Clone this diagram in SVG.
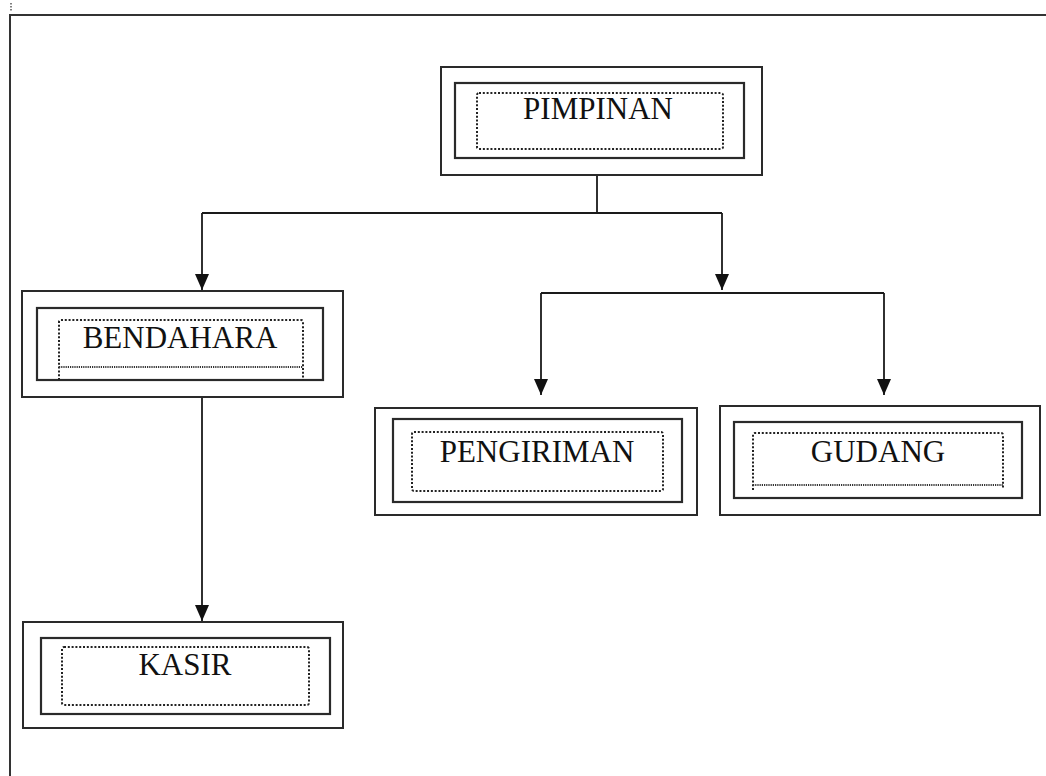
<svg xmlns="http://www.w3.org/2000/svg" width="1046" height="776" viewBox="0 0 1046 776">
<style>
.outer{fill:none;stroke:#2a2a2a;stroke-width:2}
.inner{fill:none;stroke:#2a2a2a;stroke-width:2.2}
.dot{fill:none;stroke:#222;stroke-width:2;stroke-dasharray:2 1.8}
.wave{fill:none;stroke:#333;stroke-width:2;stroke-dasharray:1.2 1}
.lbl{font-family:"Liberation Serif","Times New Roman",serif;font-size:31px;fill:#111;text-anchor:middle}
.conn{fill:none;stroke:#1a1a1a;stroke-width:1.8}
.frame{fill:none;stroke:#333;stroke-width:2}
</style>
<defs>
<marker id="tri" viewBox="0 0 16 14" refX="16" refY="7" markerWidth="16" markerHeight="14" markerUnits="userSpaceOnUse" orient="auto">
<path d="M0,0 L16,7 L0,14 Z" fill="#111"/>
</marker>
</defs>
<rect width="1046" height="776" fill="#fff"/>
<path class="frame" d="M10,776 V15 H1046"/>
<line x1="11" y1="3" x2="11" y2="11" stroke="#555" stroke-width="1.5" stroke-dasharray="1.5 1.5"/>

<g id="connectors">
<path class="conn" d="M597,175 V213"/>
<path class="conn" d="M202,213 H722"/>
<path class="conn" d="M202,213 V290" marker-end="url(#tri)"/>
<path class="conn" d="M722,213 V290" marker-end="url(#tri)"/>
<path class="conn" d="M541,293 H884"/>
<path class="conn" d="M541,293 V395" marker-end="url(#tri)"/>
<path class="conn" d="M884,293 V395" marker-end="url(#tri)"/>
<path class="conn" d="M202,397 V621" marker-end="url(#tri)"/>
</g>

<g id="pimpinan">
<rect class="outer" x="441" y="67" width="321" height="108"/>
<rect class="inner" x="455" y="83" width="289" height="75"/>
<rect class="dot" x="477" y="93" width="246" height="56" rx="2"/>
<text class="lbl" x="598" y="119">PIMPINAN</text>
</g>

<g id="bendahara">
<rect class="outer" x="22" y="291" width="321" height="106"/>
<rect class="inner" x="37" y="308" width="286" height="72"/>
<path class="dot" d="M59,380 V322 Q59,320 61,320 H301 Q303,320 303,322 V380"/>
<path class="wave" d="M59,367 H303"/>
<text class="lbl" x="180" y="348">BENDAHARA</text>
</g>

<g id="pengiriman">
<rect class="outer" x="375" y="408" width="322" height="107"/>
<rect class="inner" x="393" y="419" width="289" height="83"/>
<rect class="dot" x="412" y="432" width="251" height="59" rx="2"/>
<text class="lbl" x="537" y="462">PENGIRIMAN</text>
</g>

<g id="gudang">
<rect class="outer" x="720" y="406" width="320" height="109"/>
<rect class="inner" x="734" y="422" width="288" height="76"/>
<path class="dot" d="M753,490 V435 Q753,433 755,433 H1001 Q1003,433 1003,435 V488"/>
<path class="wave" d="M753,485 H1003"/>
<text class="lbl" x="878" y="462">GUDANG</text>
</g>

<g id="kasir">
<rect class="outer" x="23" y="622" width="320" height="106"/>
<rect class="inner" x="41" y="638" width="289" height="76"/>
<rect class="dot" x="62" y="647" width="247" height="58" rx="2"/>
<text class="lbl" x="185" y="675">KASIR</text>
</g>
</svg>
